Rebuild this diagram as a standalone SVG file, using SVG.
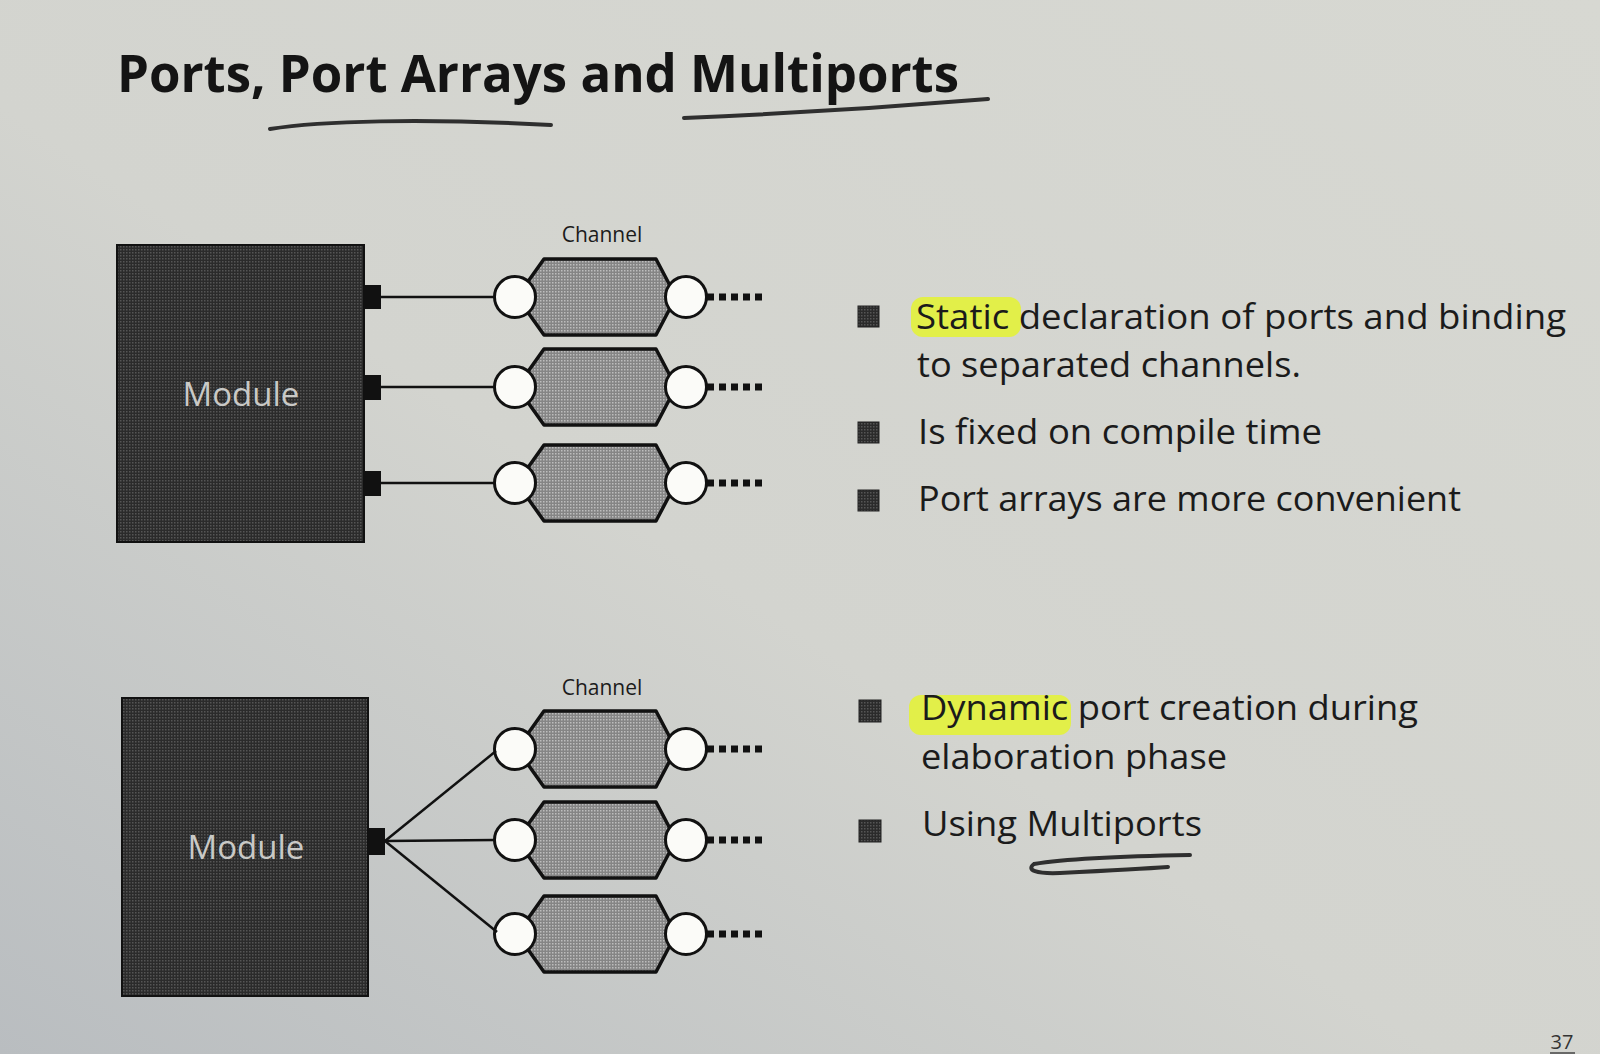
<svg xmlns="http://www.w3.org/2000/svg" width="1600" height="1054" viewBox="0 0 1600 1054">
  <defs>
    <linearGradient id="paper" x1="1" y1="0" x2="0" y2="1">
      <stop offset="0" stop-color="#d7d8d2"/>
      <stop offset="0.55" stop-color="#d3d4cf"/>
      <stop offset="1" stop-color="#b9bdc0"/>
    </linearGradient>
    <pattern id="darkDots" width="3" height="3" patternUnits="userSpaceOnUse">
      <rect width="3" height="3" fill="#2b2b2b"/>
      <rect width="1.5" height="1.5" fill="#555"/>
    </pattern>
    <pattern id="greyDots" width="3" height="3" patternUnits="userSpaceOnUse">
      <rect width="3" height="3" fill="#858585"/>
      <rect width="1.5" height="1.5" fill="#bdbdbd"/>
    </pattern>
    <!-- one channel: hexagon body, two port circles and trailing dots, centred on y=0 -->
    <g id="channel">
      <polygon points="517,0 544,-38 656,-38 676,0 656,38 544,38" fill="url(#greyDots)" stroke="#111" stroke-width="3.5" stroke-linejoin="round"/>
      <circle cx="515" cy="0" r="20.5" fill="#fbfbf8" stroke="#111" stroke-width="3"/>
      <circle cx="686" cy="0" r="20.5" fill="#fbfbf8" stroke="#111" stroke-width="3"/>
      <line x1="707" y1="0" x2="765" y2="0" stroke="#111" stroke-width="7" stroke-dasharray="7 5"/>
    </g>
  </defs>
  <style>
    .title { font-family: "Open Sans", "Liberation Sans", sans-serif; font-weight: 700; font-size: 52px; fill: #141414; }
    .bullet-text { font-family: "Open Sans", "Liberation Sans", sans-serif; font-size: 35px; fill: #1b1b1b; }
    .module-label { font-family: "Open Sans", "Liberation Sans", sans-serif; font-size: 33px; fill: #c9c9c6; }
    .channel-label { font-family: "Open Sans", "Liberation Sans", sans-serif; font-size: 21px; fill: #1b1b1b; }
    .module { fill: url(#darkDots); stroke: #111; stroke-width: 2; }
    .port { fill: #111; }
    .wire { stroke: #111; stroke-width: 2.5; fill: none; }
    .bullet { fill: url(#darkDots); stroke: #222; stroke-width: 1; }
    .pencil { stroke: #2f2f2f; stroke-width: 4; fill: none; stroke-linecap: round; }
    .marker-hl { fill: #e3f23a; opacity: 0.9; }
  </style>

  <rect width="1600" height="1054" fill="url(#paper)"/>

  <!-- heading -->
  <g id="title">
    <text class="title" x="117" y="92" textLength="842" lengthAdjust="spacingAndGlyphs">Ports, Port Arrays and Multiports</text>
    <path class="pencil" d="M270,129 C320,121 420,118 551,125"/>
    <path class="pencil" d="M684,118 C780,114 880,108 988,99"/>
  </g>

  <!-- upper diagram: three separate ports -->
  <g id="module-top">
    <rect class="module" x="117" y="245" width="247" height="297"/>
    <text class="module-label" x="241" y="406" text-anchor="middle">Module</text>
    <rect class="port" x="363" y="285" width="18" height="24"/>
    <rect class="port" x="363" y="375" width="18" height="25"/>
    <rect class="port" x="363" y="471" width="18" height="25"/>
  </g>
  <g id="channel-label-top">
    <text class="channel-label" x="602" y="242" text-anchor="middle">Channel</text>
  </g>
  <g id="channel-top-1"><use href="#channel" transform="translate(0,297)"/></g>
  <g id="channel-top-2"><use href="#channel" transform="translate(0,387)"/></g>
  <g id="channel-top-3"><use href="#channel" transform="translate(0,483)"/></g>

  <!-- lower diagram: one multiport -->
  <g id="module-bottom">
    <rect class="module" x="122" y="698" width="246" height="298"/>
    <text class="module-label" x="246" y="859" text-anchor="middle">Module</text>
    <rect class="port" x="367" y="828" width="18" height="27"/>
  </g>
  <g id="channel-label-bottom">
    <text class="channel-label" x="602" y="695" text-anchor="middle">Channel</text>
  </g>
  <g id="channel-bottom-1"><use href="#channel" transform="translate(0,749)"/></g>
  <g id="channel-bottom-2"><use href="#channel" transform="translate(0,840)"/></g>
  <g id="channel-bottom-3"><use href="#channel" transform="translate(0,934)"/></g>

  <g id="connectors">
    <line class="wire" x1="381" y1="297" x2="495" y2="297"/>
    <line class="wire" x1="381" y1="387" x2="495" y2="387"/>
    <line class="wire" x1="381" y1="483" x2="495" y2="483"/>
    <line class="wire" x1="385" y1="841" x2="496" y2="751"/>
    <line class="wire" x1="385" y1="841" x2="495" y2="840"/>
    <line class="wire" x1="385" y1="841" x2="497" y2="932"/>
  </g>

  <!-- bullet list, upper part -->
  <g id="notes-top">
    <rect class="marker-hl" x="911" y="297" width="110" height="40" rx="12"/>
    <rect class="bullet" x="858" y="306" width="21" height="21"/>
    <text class="bullet-text" x="916" y="329" textLength="650" lengthAdjust="spacingAndGlyphs">Static declaration of ports and binding</text>
    <text class="bullet-text" x="917" y="377" textLength="384" lengthAdjust="spacingAndGlyphs">to separated channels.</text>
    <rect class="bullet" x="858" y="422" width="21" height="21"/>
    <text class="bullet-text" x="918" y="444" textLength="404" lengthAdjust="spacingAndGlyphs">Is fixed on compile time</text>
    <rect class="bullet" x="858" y="490" width="21" height="21"/>
    <text class="bullet-text" x="918" y="511" textLength="543" lengthAdjust="spacingAndGlyphs">Port arrays are more convenient</text>
  </g>

  <!-- bullet list, lower part -->
  <g id="notes-bottom">
    <rect class="marker-hl" x="909" y="695" width="162" height="40" rx="12"/>
    <rect class="bullet" x="859" y="700" width="22" height="22"/>
    <text class="bullet-text" x="921" y="720" textLength="497" lengthAdjust="spacingAndGlyphs">Dynamic port creation during</text>
    <text class="bullet-text" x="921" y="769" textLength="306" lengthAdjust="spacingAndGlyphs">elaboration phase</text>
    <rect class="bullet" x="859" y="820" width="22" height="22"/>
    <text class="bullet-text" x="922" y="836" textLength="280" lengthAdjust="spacingAndGlyphs">Using Multiports</text>
    <path class="pencil" stroke-width="3.5" d="M1190,855 C1130,856 1070,858 1034,864 C1026,870 1036,874 1060,873 C1100,871 1140,869 1168,867"/>
  </g>

  <g id="page-number">
    <text x="1562" y="1049" text-anchor="middle" font-family="'Open Sans', 'Liberation Sans', sans-serif" font-size="20" fill="#333">37</text>
    <line x1="1550" y1="1053" x2="1575" y2="1053" stroke="#444" stroke-width="1.5"/>
  </g>
</svg>
